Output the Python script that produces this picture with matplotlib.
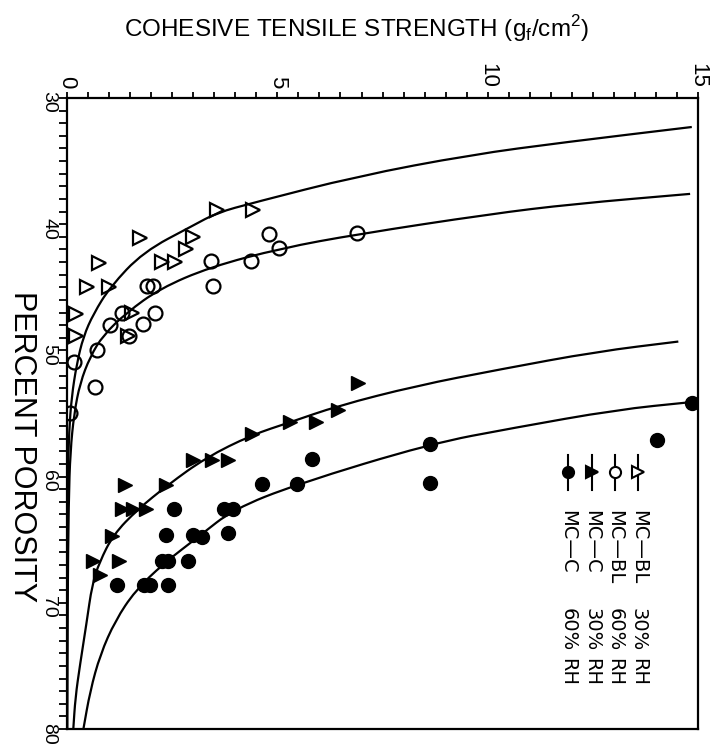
import matplotlib
matplotlib.use("Agg")
import matplotlib.pyplot as plt
from matplotlib.path import Path
from matplotlib.patches import PathPatch
from matplotlib.ticker import MultipleLocator, FixedLocator

plt.rcParams['font.family'] = ['Liberation Sans', 'DejaVu Sans']

# ---- measured points: strength (gf/cm^2) vs percent porosity ----
bl30_strength = [3.56, 4.41, 1.74, 3.00, 2.83, 2.25, 2.57, 0.77, 0.48, 1.01,
                 0.21, 1.54, 0.21, 1.45]
bl30_porosity = [38.9, 38.9, 41.1, 41.0, 42.0, 43.0, 43.0, 43.1, 45.0, 45.0,
                 47.1, 47.0, 48.9, 48.9]

bl60_strength = [4.79, 5.05, 6.89, 3.42, 4.37, 3.48, 1.91, 2.05, 2.09, 1.81,
                 1.30, 1.02, 1.47, 0.72, 0.17, 0.67, 0.07]
bl60_porosity = [40.8, 41.9, 40.7, 42.9, 42.9, 44.9, 44.9, 44.9, 47.0, 47.9,
                 47.0, 48.0, 48.9, 50.0, 50.9, 52.9, 55.0]

c30_strength = [6.92, 6.43, 5.93, 5.30, 4.39, 3.83, 3.44, 3.00, 2.35, 1.38,
                1.88, 1.56, 1.30, 1.06, 1.24, 0.63, 0.78]
c30_porosity = [52.6, 54.7, 55.7, 55.7, 56.6, 58.7, 58.7, 58.7, 60.7, 60.7,
                62.6, 62.6, 62.6, 64.7, 66.7, 66.7, 67.8]

c60_strength = [14.85, 14.02, 8.63, 8.63, 5.83, 4.63, 5.46, 2.54, 3.72, 3.95,
                2.35, 3.00, 3.20, 3.83, 2.25, 2.40, 2.88, 1.20, 1.82, 1.98, 2.40]
c60_porosity = [54.2, 57.1, 57.4, 60.5, 58.6, 60.6, 60.6, 62.6, 62.6, 62.6,
                64.6, 64.6, 64.8, 64.5, 66.7, 66.7, 66.7, 68.6, 68.6, 68.6, 68.6]

# ---- fitted curves (strength, porosity) ----
fit_bl30_strength = [14.85, 11.85, 9.60, 6.90, 4.43, 3.56, 3.00, 1.81, 1.02, 0.63,
                     0.39, 0.23, 0.11, 0.05, 0.02, 0.008, 0.003]
fit_bl30_porosity = [32.3, 33.5, 34.5, 36.2, 38.3, 39.1, 40.1, 42.2, 45.0, 47.1,
                     48.9, 51.1, 53.7, 56.4, 60.0, 66.0, 80.0]

fit_bl60_strength = [14.81, 12.03, 10.05, 6.90, 5.10, 3.40, 2.21, 1.42, 0.86, 0.55,
                     0.31, 0.17, 0.08, 0.04, 0.015, 0.005]
fit_bl60_porosity = [37.6, 38.4, 39.2, 40.8, 41.9, 43.4, 45.1, 47.0, 48.8, 50.5,
                     52.6, 55.0, 58.0, 62.0, 70.0, 80.0]

fit_c30_strength = [14.53, 12.59, 10.30, 8.31, 6.43, 5.30, 4.39, 3.30, 2.40, 1.68,
                    1.10, 0.77, 0.60, 0.46, 0.31, 0.20, 0.15]
fit_c30_porosity = [49.3, 50.1, 51.5, 52.8, 54.4, 55.7, 56.7, 58.5, 60.65, 62.6,
                    64.6, 66.8, 68.5, 71.7, 74.9, 77.5, 80.0]

fit_c60_strength = [14.83, 13.07, 10.60, 8.63, 5.46, 3.95, 3.15, 2.29, 1.62, 1.15,
                    0.79, 0.55, 0.39]
fit_c60_porosity = [54.1, 54.7, 56.15, 57.4, 60.6, 62.6, 64.7, 66.9, 69.05, 71.4,
                    74.1, 77.0, 80.0]

x_ticks = [0, 5, 10, 15]
y_ticks = [30, 40, 50, 60, 70, 80]

legend_rows = [
    ('>', False, 'MC\u2014BL', '30%', 'RH'),
    ('o', False, 'MC\u2014BL', '60%', 'RH'),
    ('>', True, 'MC\u2014C', '30%', 'RH'),
    ('o', True, 'MC\u2014C', '60%', 'RH'),
]


def smooth_curve(xs, ys):
    """Quadratic-Bezier path running through the midpoints of the polyline."""
    pts = list(zip(xs, ys))
    verts = [pts[0], ((pts[0][0] + pts[1][0]) / 2, (pts[0][1] + pts[1][1]) / 2)]
    codes = [Path.MOVETO, Path.LINETO]
    for i in range(1, len(pts) - 1):
        nxt = ((pts[i][0] + pts[i + 1][0]) / 2, (pts[i][1] + pts[i + 1][1]) / 2)
        verts += [pts[i], nxt]
        codes += [Path.CURVE3, Path.CURVE3]
    verts.append(pts[-1])
    codes.append(Path.LINETO)
    return Path(verts, codes)


fig = plt.figure(figsize=(7.18, 7.49), dpi=100)
ax = fig.add_axes([0.0933, 0.0267, 0.879, 0.8425])
ax.set_xlim(0, 15)
ax.set_ylim(80, 30)

for fx, fy in [(fit_bl30_strength, fit_bl30_porosity),
               (fit_bl60_strength, fit_bl60_porosity),
               (fit_c30_strength, fit_c30_porosity),
               (fit_c60_strength, fit_c60_porosity)]:
    ax.add_patch(PathPatch(smooth_curve(fx, fy), facecolor='none',
                           edgecolor='black', lw=1.6, zorder=2))

ax.plot(bl30_strength, bl30_porosity, ls='none', marker='>', ms=10.5,
        mfc='none', mec='black', mew=1.6, zorder=3)
ax.plot(bl60_strength, bl60_porosity, ls='none', marker='o', ms=10,
        mfc='none', mec='black', mew=1.6, zorder=3)
ax.plot(c30_strength, c30_porosity, ls='none', marker='>', ms=10.5,
        mfc='black', mec='black', zorder=3)
ax.plot(c60_strength, c60_porosity, ls='none', marker='o', ms=10,
        mfc='black', mec='black', zorder=3)

# axes styling: strength along the top, porosity increasing downward
ax.xaxis.set_ticks_position('top')
ax.xaxis.set_major_locator(FixedLocator(x_ticks))
ax.xaxis.set_minor_locator(MultipleLocator(0.5))
ax.yaxis.set_major_locator(FixedLocator(y_ticks))
ax.yaxis.set_minor_locator(MultipleLocator(1))
ax.tick_params(axis='x', which='both', direction='out', length=4, width=1.3,
               top=True, bottom=False, labeltop=True, labelbottom=False,
               labelsize=16, labelrotation=-90, pad=3)
ax.tick_params(axis='y', which='both', direction='out', length=5.5, width=1.3,
               left=True, right=False, labelsize=14, labelrotation=-90, pad=1.5)
for s in ax.spines.values():
    s.set_linewidth(1.6)

fig.text(0.497, 1 - 29 / 749,
         r'COHESIVE TENSILE STRENGTH (g$_\mathregular{f}$/cm$^\mathregular{2}$)',
         ha='center', va='center', fontsize=17.5)
fig.text(0.031, 1 - 447 / 749, 'PERCENT POROSITY', rotation=-90,
         ha='center', va='center', fontsize=22)

# legend written sideways in the lower right
col_x = [0.905, 0.868, 0.832, 0.794]
for (mk, filled, name, rh, unit), cx in zip(legend_rows, col_x):
    ax.plot([cx, cx], [0.434, 0.379], transform=ax.transAxes, color='black',
            lw=1.5, zorder=4)
    ax.plot([cx], [0.407], transform=ax.transAxes, marker=mk, ms=8,
            mfc='black' if filled else 'white', mec='black', mew=1.5, zorder=5)
    ax.text(cx, 0.347, name, transform=ax.transAxes, rotation=-90,
            ha='center', va='top', fontsize=14, family='DejaVu Sans')
    ax.text(cx, 0.192, rh, transform=ax.transAxes, rotation=-90,
            ha='center', va='top', fontsize=14, family='DejaVu Sans')
    ax.text(cx, 0.113, unit, transform=ax.transAxes, rotation=-90,
            ha='center', va='top', fontsize=14, family='DejaVu Sans')

fig.savefig('out.png', dpi=100)
